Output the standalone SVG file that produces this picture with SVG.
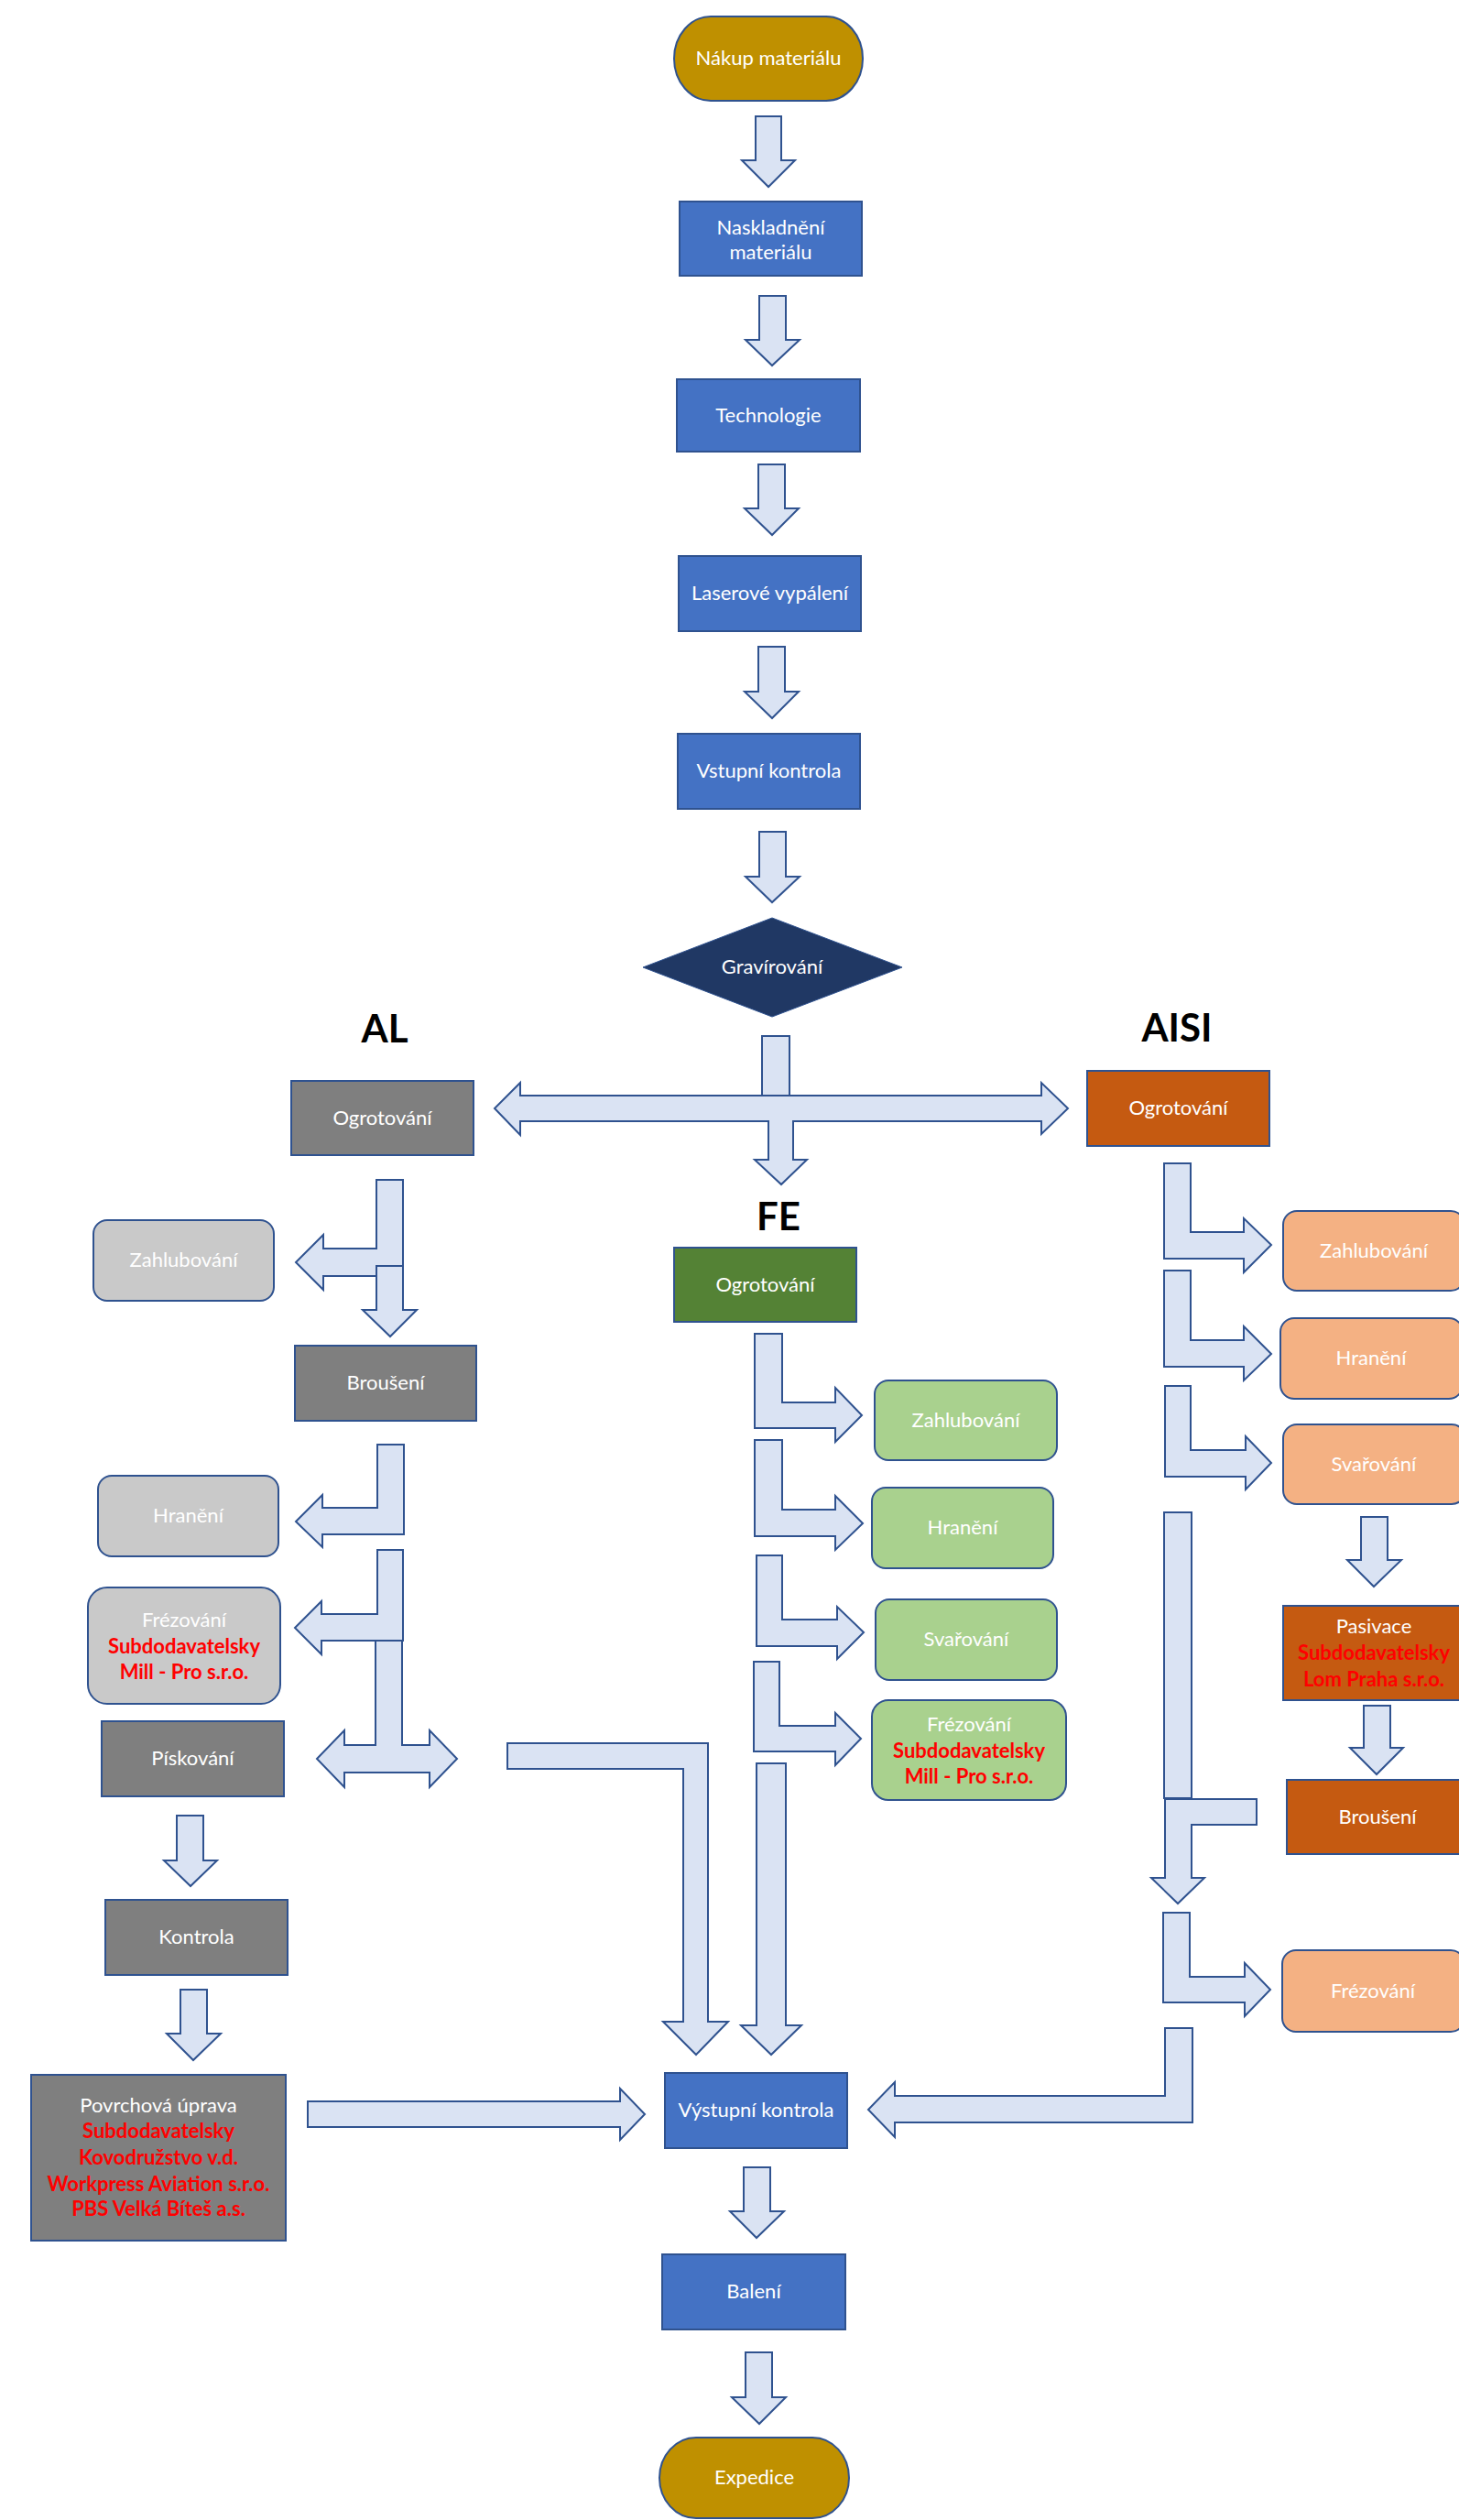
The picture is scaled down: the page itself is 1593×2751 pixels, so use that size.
<svg xmlns="http://www.w3.org/2000/svg" width="1593" height="2751" viewBox="0 0 1593 2751">
<style>
.a{fill:#DAE3F3;stroke:#2F528F;stroke-width:2;stroke-linejoin:miter}
.b{stroke:#2F528F;stroke-width:2}
.blue{fill:#4472C4}
.gold{fill:#BF9000}
.dg{fill:#7F7F7F}
.lg{fill:#C9C9C9}
.gr{fill:#548235}
.lgr{fill:#A9D18E}
.or{fill:#C55A11}
.lor{fill:#F4B183}
.t{font-family:Lato,"Liberation Sans",sans-serif;font-size:22px;fill:#FFFFFF;text-anchor:middle}
.r{fill:#FF0000;font-weight:bold}
.h{font-family:Lato,"Liberation Sans",sans-serif;font-size:42px;font-weight:bold;fill:#000000;text-anchor:middle}
</style>
<rect width="1593" height="2751" fill="#FFFFFF"/>
<g id="connectors">
<path class="a" d="M825,127 H853 V175 H868 L839,204 L810,175 H825 Z"/>
<path class="a" d="M829,323 H858 V371 H873 L843,399 L814,371 H829 Z"/>
<path class="a" d="M828,507 H857 V555 H872 L843,584 L813,555 H828 Z"/>
<path class="a" d="M828,706 H857 V755 H872 L843,784 L813,755 H828 Z"/>
<path class="a" d="M829,908 H858 V957 H873 L843,985 L814,957 H829 Z"/>
<rect class="a" x="832" y="1131" width="30" height="65"/>
<path class="a" d="M568,1196 H1137 V1182 L1166,1210 L1137,1238 V1224 H866 V1266 H881 L853,1293 L824,1266 H839 V1224 H568 V1239 L540,1210 L568,1182 Z"/>
<path class="a" d="M411,1288 H440 V1393 H353 V1408 L323,1378 L353,1348 V1363 H411 Z"/>
<path class="a" d="M411,1382 H440 V1430 H455 L426,1459 L396,1430 H411 Z"/>
<path class="a" d="M412,1577 H441 V1675 H352 V1689 L323,1661 L352,1632 V1646 H412 Z"/>
<path class="a" d="M412,1692 H440 V1791 H351 V1806 L322,1777 L351,1748 V1762 H412 Z"/>
<path class="a" d="M410,1791 H439 V1905 H469 V1889 L499,1920 L469,1951 V1935 H376 V1951 L346,1920 L376,1889 V1905 H410 Z"/>
<path class="a" d="M193,1982 H222 V2031 H237 L208,2059 L179,2031 H193 Z"/>
<path class="a" d="M197,2172 H226 V2220 H241 L211,2249 L182,2220 H197 Z"/>
<path class="a" d="M336,2294 H677 V2280 L704,2308 L677,2336 V2322 H336 Z"/>
<path class="a" d="M554,1903 H773 V2207 H795 L760,2243 L724,2207 H746 V1931 H554 Z"/>
<path class="a" d="M824,1456 H854 V1531 H912 V1515 L941,1545 L912,1574 V1559 H824 Z"/>
<path class="a" d="M824,1572 H854 V1648 H912 V1633 L942,1663 L912,1692 V1677 H824 Z"/>
<path class="a" d="M826,1698 H854 V1768 H914 V1754 L943,1782 L914,1811 V1797 H826 Z"/>
<path class="a" d="M823,1814 H851 V1884 H912 V1870 L940,1898 L912,1927 V1912 H823 Z"/>
<path class="a" d="M826,1925 H858 V2211 H875 L842,2243 L809,2211 H826 Z"/>
<path class="a" d="M1271,1270 H1300 V1345 H1358 V1330 L1388,1359 L1358,1389 V1374 H1271 Z"/>
<path class="a" d="M1271,1387 H1300 V1463 H1358 V1448 L1388,1478 L1358,1507 V1492 H1271 Z"/>
<path class="a" d="M1272,1513 H1300 V1583 H1360 V1568 L1388,1597 L1360,1626 V1612 H1272 Z"/>
<path class="a" d="M1271,1651 H1301 V1963 H1271 Z"/>
<path class="a" d="M1372,1964 V1992 H1301 V2050 H1315 L1286,2078 L1257,2050 H1272 V1964 Z"/>
<path class="a" d="M1486,1656 H1515 V1703 H1530 L1500,1732 L1471,1703 H1486 Z"/>
<path class="a" d="M1489,1862 H1518 V1908 H1532 L1503,1937 L1474,1908 H1489 Z"/>
<path class="a" d="M1270,2088 H1299 V2158 H1359 V2143 L1387,2172 L1359,2201 V2186 H1270 Z"/>
<path class="a" d="M1272,2214 H1302 V2317 H977 V2333 L948,2303 L977,2273 V2288 H1272 Z"/>
<path class="a" d="M812,2366 H841 V2414 H856 L826,2443 L797,2414 H812 Z"/>
<path class="a" d="M814,2568 H843 V2617 H858 L829,2646 L799,2617 H814 Z"/>
</g>
<g id="nakup"><rect class="b gold" x="736" y="18" width="206" height="92" rx="40" ry="46"/><text class="t" x="839" y="71">Nákup materiálu</text></g>
<g id="naskladneni"><rect class="b blue" x="742" y="220" width="199" height="81"/><text class="t" x="841.5" y="256">Naskladnění</text><text class="t" x="841.5" y="283">materiálu</text></g>
<g id="technologie"><rect class="b blue" x="739" y="414" width="200" height="79"/><text class="t" x="839" y="461">Technologie</text></g>
<g id="laser"><rect class="b blue" x="741" y="607" width="199" height="82"/><text class="t" x="840.5" y="655">Laserové vypálení</text></g>
<g id="vstupni"><rect class="b blue" x="740" y="801" width="199" height="82"/><text class="t" x="839.5" y="849">Vstupní kontrola</text></g>
<g id="gravirovani"><path d="M702,1056 L843,1002 L985,1056 L843,1110 Z" fill="#203864" stroke="#2F528F" stroke-width="1"/><text class="t" x="843" y="1063">Gravírování</text></g>
<g id="hdr-al"><text class="h" x="420" y="1138">AL</text></g>
<g id="hdr-fe"><text class="h" x="850" y="1343">FE</text></g>
<g id="hdr-aisi"><text class="h" x="1285" y="1137">AISI</text></g>
<g id="al-ogrotovani"><rect class="b dg" x="318" y="1180" width="199" height="81"/><text class="t" x="417.5" y="1228">Ogrotování</text></g>
<g id="al-zahlubovani"><rect class="b lg" x="102" y="1332" width="197" height="88" rx="15"/><text class="t" x="200.5" y="1383">Zahlubování</text></g>
<g id="al-brouseni"><rect class="b dg" x="322" y="1469" width="198" height="82"/><text class="t" x="421" y="1517">Broušení</text></g>
<g id="al-haneni"><rect class="b lg" x="107" y="1611" width="197" height="88" rx="15"/><text class="t" x="205.5" y="1662">Hranění</text></g>
<g id="al-frezovani"><rect class="b lg" x="96" y="1733" width="210" height="127" rx="21"/><text class="t" x="201" y="1776">Frézování</text><text class="t r" x="201" y="1805">Subdodavatelsky</text><text class="t r" x="201" y="1833">Mill - Pro s.r.o.</text></g>
<g id="al-piskovani"><rect class="b dg" x="111" y="1879" width="199" height="82"/><text class="t" x="210.5" y="1927">Pískování</text></g>
<g id="al-kontrola"><rect class="b dg" x="115" y="2074" width="199" height="82"/><text class="t" x="214.5" y="2122">Kontrola</text></g>
<g id="al-povrchova"><rect class="b dg" x="34" y="2265" width="278" height="181"/><text class="t" x="173" y="2306">Povrchová úprava</text><text class="t r" x="173" y="2334">Subdodavatelsky</text><text class="t r" x="173" y="2363">Kovodružstvo v.d.</text><text class="t r" x="173" y="2392">Workpress Aviation s.r.o.</text><text class="t r" x="173" y="2419">PBS Velká Bíteš a.s.</text></g>
<g id="fe-ogrotovani"><rect class="b gr" x="736" y="1362" width="199" height="81"/><text class="t" x="835.5" y="1410">Ogrotování</text></g>
<g id="fe-zahlubovani"><rect class="b lgr" x="955" y="1507" width="199" height="87" rx="15"/><text class="t" x="1054.5" y="1558">Zahlubování</text></g>
<g id="fe-hraneni"><rect class="b lgr" x="952" y="1624" width="198" height="88" rx="15"/><text class="t" x="1051" y="1675">Hranění</text></g>
<g id="fe-svarovani"><rect class="b lgr" x="956" y="1746" width="198" height="88" rx="15"/><text class="t" x="1055" y="1797">Svařování</text></g>
<g id="fe-frezovani"><rect class="b lgr" x="952" y="1856" width="212" height="109" rx="18"/><text class="t" x="1058" y="1890">Frézování</text><text class="t r" x="1058" y="1919">Subdodavatelsky</text><text class="t r" x="1058" y="1947">Mill - Pro s.r.o.</text></g>
<g id="aisi-ogrotovani"><rect class="b or" x="1187" y="1169" width="199" height="82"/><text class="t" x="1286.5" y="1217">Ogrotování</text></g>
<g id="aisi-zahlubovani"><rect class="b lor" x="1401" y="1322" width="198" height="87" rx="15"/><text class="t" x="1500" y="1373">Zahlubování</text></g>
<g id="aisi-hraneni"><rect class="b lor" x="1398" y="1439" width="199" height="88" rx="15"/><text class="t" x="1497" y="1490">Hranění</text></g>
<g id="aisi-svarovani"><rect class="b lor" x="1401" y="1555" width="199" height="87" rx="15"/><text class="t" x="1500" y="1606">Svařování</text></g>
<g id="aisi-pasivace"><rect class="b or" x="1401" y="1753" width="199" height="103"/><text class="t" x="1500" y="1783">Pasivace</text><text class="t r" x="1500" y="1812">Subdodavatelsky</text><text class="t r" x="1500" y="1841">Lom Praha s.r.o.</text></g>
<g id="aisi-brouseni"><rect class="b or" x="1405" y="1943" width="199" height="81"/><text class="t" x="1504" y="1991">Broušení</text></g>
<g id="aisi-frezovani"><rect class="b lor" x="1400" y="2129" width="199" height="89" rx="15"/><text class="t" x="1499" y="2181">Frézování</text></g>
<g id="vystupni"><rect class="b blue" x="726" y="2263" width="199" height="82"/><text class="t" x="825.5" y="2311">Výstupní kontrola</text></g>
<g id="baleni"><rect class="b blue" x="723" y="2461" width="200" height="82"/><text class="t" x="823" y="2509">Balení</text></g>
<g id="expedice"><rect class="b gold" x="720" y="2661" width="207" height="88" rx="40" ry="44"/><text class="t" x="823.5" y="2712">Expedice</text></g>
</svg>
